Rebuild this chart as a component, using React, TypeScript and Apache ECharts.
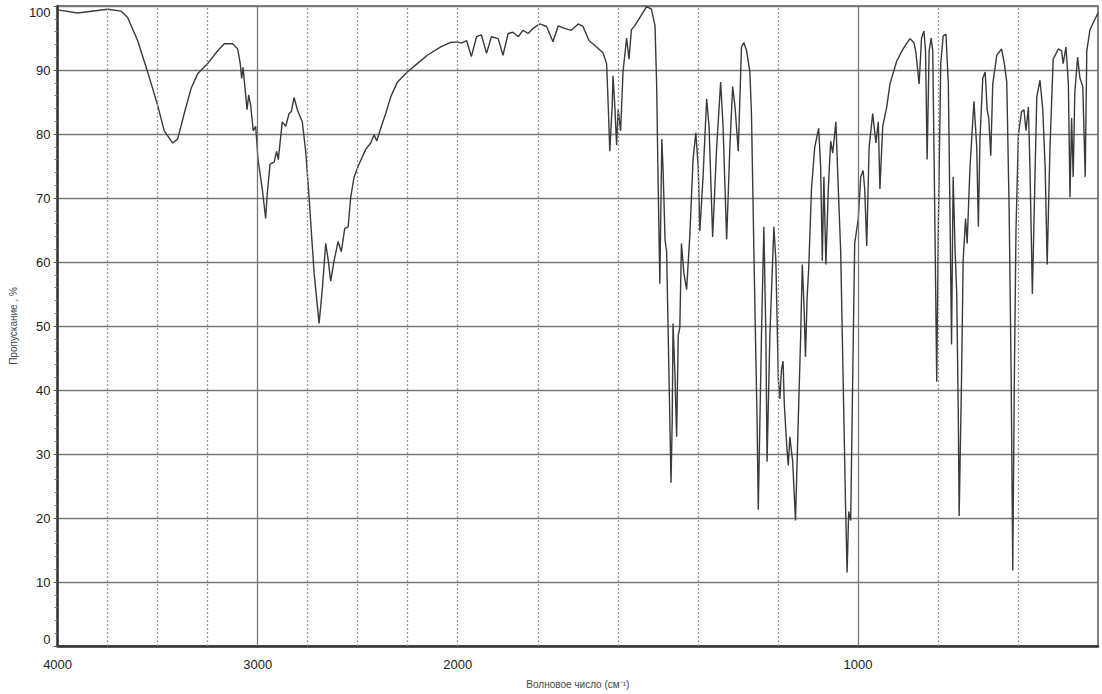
import { useEffect, useRef } from "react";
import * as echarts from "echarts";

// IR spectrum: wavenumber (cm^-1) and transmittance (%)
const wavenumbers: number[] = [
  4000, 3900, 3750, 3683, 3650, 3600, 3550, 3500, 3467, 3425, 3400, 3367, 3333, 3300, 3250, 3200, 3167, 3125,
  3100, 3087, 3080, 3073, 3063, 3053, 3045, 3035, 3022, 3010, 2998, 2977, 2960, 2952, 2938, 2918, 2905, 2897,
  2877, 2860, 2843, 2832, 2818, 2802, 2777, 2760, 2743, 2718, 2693, 2677, 2660, 2647, 2635, 2618, 2598, 2582,
  2565, 2548, 2535, 2518, 2493, 2460, 2435, 2418, 2405, 2385, 2360, 2335, 2302, 2252, 2202, 2152, 2085, 2035,
  2000, 1991, 1978, 1966, 1953, 1941, 1928, 1916, 1899, 1887, 1874, 1862, 1849, 1837, 1824, 1812, 1795, 1778,
  1762, 1749, 1733, 1716, 1699, 1687, 1672, 1653, 1637, 1628, 1624, 1620, 1614, 1612, 1607, 1603, 1599, 1593,
  1587, 1578, 1572, 1566, 1558, 1545, 1528, 1516, 1507, 1503, 1499, 1495, 1492, 1490, 1487, 1482, 1478, 1474,
  1470, 1467, 1464, 1462, 1457, 1453, 1449, 1445, 1441, 1435, 1428, 1420, 1412, 1405, 1399, 1395, 1387, 1378,
  1372, 1363, 1353, 1343, 1337, 1328, 1320, 1313, 1307, 1299, 1291, 1285, 1278, 1270, 1266, 1258, 1252, 1249,
  1241, 1235, 1230, 1227, 1220, 1210, 1205, 1199, 1195, 1191, 1187, 1184, 1178, 1174, 1170, 1163, 1156, 1149,
  1143, 1139, 1135, 1131, 1127, 1123, 1116, 1108, 1098, 1093, 1089, 1085, 1080, 1074, 1068, 1063, 1055, 1049,
  1043, 1037, 1031, 1027, 1023, 1018, 1013, 1008, 999, 993, 987, 983, 978, 972, 963, 955, 949, 945,
  938, 928, 920, 903, 887, 870, 860, 855, 847, 841, 835, 831, 827, 822, 817, 813, 808, 803,
  799, 793, 787, 780, 774, 770, 766, 762, 757, 753, 749, 747, 741, 737, 731, 727, 720, 710,
  703, 699, 695, 688, 682, 677, 673, 668, 663, 653, 641, 634, 628, 622, 617, 613, 609, 605,
  599, 591, 585, 580, 574, 570, 564, 557, 553, 545, 538, 532, 527, 520, 512, 499, 491, 487,
  480, 474, 470, 466, 462, 458, 451, 445, 438, 432, 428, 420, 408, 400,
];

const transmittance: number[] = [
  99.4, 98.9, 99.5, 99.2, 98.2, 94.6, 89.7, 84.5, 80.5, 78.6, 79.2, 83.2, 87.1, 89.4, 91.0, 93.0, 94.1, 94.1,
  93.3, 91.0, 88.7, 90.4, 87.1, 83.8, 86.1, 84.5, 80.5, 81.2, 76.0, 71.4, 66.8, 70.7, 75.3, 75.6, 77.3, 76.0,
  81.9, 81.2, 83.2, 83.5, 85.7, 83.8, 81.9, 77.3, 70.1, 58.3, 50.4, 55.7, 62.9, 60.2, 57.0, 60.2, 63.2, 61.6,
  65.2, 65.5, 70.1, 73.3, 75.3, 77.6, 78.6, 79.9, 78.9, 80.9, 83.2, 85.8, 88.1, 89.7, 91.0, 92.3, 93.6, 94.3,
  94.4, 94.2, 94.6, 92.1, 95.2, 95.5, 92.6, 95.2, 94.9, 92.3, 95.7, 95.9, 95.2, 96.2, 95.7, 96.5, 97.2, 96.8,
  94.4, 96.9, 96.5, 96.2, 97.2, 96.8, 94.6, 93.6, 92.7, 91.0, 84.5, 77.3, 84.5, 89.1, 83.8, 78.3, 83.8, 80.5,
  89.7, 95.0, 91.7, 96.3, 96.9, 98.2, 99.9, 99.5, 96.9, 87.8, 71.4, 56.6, 70.1, 79.2, 74.7, 63.5, 61.6, 48.5,
  35.4, 25.5, 35.4, 50.4, 41.9, 32.7, 48.5, 49.8, 62.9, 58.3, 55.7, 64.2, 76.0, 80.2, 74.7, 64.8, 73.3, 85.5,
  81.2, 63.9, 77.9, 88.1, 81.2, 63.5, 77.9, 87.4, 84.2, 77.3, 93.6, 94.3, 93.0, 89.7, 83.2, 55.0, 35.4, 21.3,
  48.5, 65.5, 48.5, 28.8, 48.5, 65.5, 60.2, 41.9, 38.6, 43.2, 44.5, 37.9, 31.4, 28.2, 32.7, 28.8, 19.6, 35.4,
  48.5, 59.6, 53.7, 45.2, 54.4, 58.9, 71.4, 77.9, 80.9, 74.7, 60.2, 73.3, 59.6, 71.4, 78.9, 77.0, 81.9, 71.4,
  61.6, 41.9, 22.3, 11.5, 21.0, 19.6, 41.9, 62.9, 66.8, 73.3, 74.3, 71.4, 62.5, 77.9, 83.2, 78.6, 81.9, 71.4,
  81.2, 84.2, 87.8, 91.4, 93.3, 94.9, 94.3, 92.7, 87.8, 95.0, 96.1, 93.0, 76.0, 93.0, 95.0, 93.0, 68.1, 41.3,
  65.5, 91.0, 95.3, 95.6, 87.8, 68.1, 47.1, 73.3, 61.6, 55.0, 35.4, 20.3, 41.9, 60.2, 66.8, 62.9, 74.7, 85.1,
  77.9, 65.5, 79.2, 88.7, 89.7, 83.8, 82.5, 76.6, 87.8, 92.3, 93.3, 91.0, 88.1, 68.1, 41.9, 11.8, 41.9, 64.8,
  79.9, 83.5, 83.8, 80.5, 84.2, 74.7, 55.0, 74.7, 85.8, 88.4, 83.8, 74.7, 59.6, 77.9, 91.7, 93.3, 93.0, 91.0,
  93.6, 87.8, 70.1, 82.5, 73.3, 86.4, 92.0, 88.7, 87.4, 73.3, 93.0, 96.3, 97.9, 98.9,
];

const xLabelValues: number[] = [4000, 3000, 2000, 1000];
const dottedGridValues: number[] = [3750, 3500, 3250, 2750, 2500, 2250, 2000, 1800, 1600, 1400, 1200, 800, 600];
const solidGridValues: number[] = [3000, 1000];
const xMin = 4000;
const xBreak = 2000;
const xMax = 400;
const yMin = 0;
const yMax = 100;
const yInterval = 10;

const xTitle = "Волновое число (см⁻¹)";
const yTitle = "Пропускание , %";

// Spectrometer axis: scale doubles below 2000 cm^-1
function toAxis(w: number): number {
  return w >= xBreak ? (xMin - w) * 0.2 : (xMin - xBreak) * 0.2 + (xBreak - w) * 0.4;
}
function fromAxis(u: number): number {
  const b = (xMin - xBreak) * 0.2;
  return u <= b ? xMin - u / 0.2 : xBreak - (u - b) / 0.4;
}

export default function App() {
  const ref = useRef<HTMLDivElement>(null);

  useEffect(() => {
    if (!ref.current) return;
    const chart = echarts.init(ref.current, undefined, { renderer: "svg" });
    const font = "'Liberation Sans', Arial, sans-serif";
    const data = wavenumbers.map((w, i) => [toAxis(w), transmittance[i]]);

    chart.setOption({
      animation: false,
      backgroundColor: "#ffffff",
      grid: {
        left: 57,
        right: 4,
        top: 6,
        bottom: 45,
        show: true,
        borderColor: "#555",
        borderWidth: 1.5,
      },
      xAxis: {
        type: "value",
        min: toAxis(xMin),
        max: toAxis(xMax),
        interval: 200,
        name: xTitle,
        nameLocation: "middle",
        nameGap: 33,
        nameTextStyle: { fontFamily: font, fontSize: 10, color: "#444" },
        axisLine: { show: true, onZero: false, lineStyle: { color: "#333", width: 2.5 } },
        axisTick: { show: false },
        splitLine: { show: false },
        axisLabel: {
          fontFamily: font,
          fontSize: 13,
          color: "#222",
          margin: 12,
          formatter: (v: number) => {
            const w = Math.round(fromAxis(v));
            return xLabelValues.includes(w) ? String(w) : "";
          },
        },
      },
      yAxis: {
        type: "value",
        min: yMin,
        max: yMax,
        interval: yInterval,
        name: yTitle,
        nameLocation: "middle",
        nameGap: 38,
        nameTextStyle: { fontFamily: font, fontSize: 10, color: "#444" },
        axisLine: { show: true, lineStyle: { color: "#333", width: 2.5 } },
        axisTick: { show: true, length: 4, lineStyle: { color: "#555" } },
        minorTick: { show: true, splitNumber: 5, length: 3, lineStyle: { color: "#777" } },
        splitLine: { show: true, lineStyle: { color: "#777", width: 1.3 } },
        axisLabel: {
          fontFamily: font,
          fontSize: 13,
          color: "#222",
          margin: 7,
          verticalAlignMaxLabel: "top",
          verticalAlignMinLabel: "bottom",
        },
      },
      series: [
        {
          type: "line",
          data: [],
          z: 1,
          silent: true,
          markLine: {
            silent: true,
            symbol: ["none", "none"],
            label: { show: false },
            emphasis: { disabled: true },
            data: [
              ...dottedGridValues.map((w) => ({
                xAxis: toAxis(w),
                lineStyle: { type: [2, 2], color: "#9a9a9a", width: 1.3 },
              })),
              ...solidGridValues.map((w) => ({
                xAxis: toAxis(w),
                lineStyle: { type: "solid", color: "#777", width: 1.3 },
              })),
            ],
          },
        },
        {
          type: "line",
          data,
          z: 3,
          showSymbol: false,
          symbol: "none",
          silent: true,
          lineStyle: { color: "#3a3a3a", width: 1.4 },
        },
      ],
    });

    return () => chart.dispose();
  }, []);

  return (
    <div
      ref={ref}
      style={{ position: "fixed", left: 0, top: 0, width: 1102, height: 694, background: "#fff" }}
    />
  );
}
